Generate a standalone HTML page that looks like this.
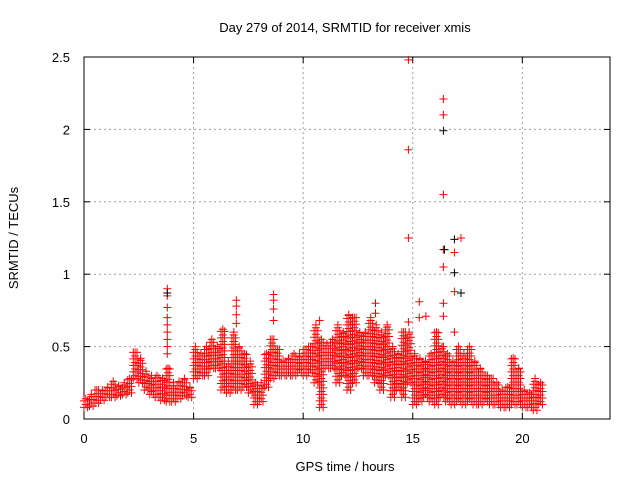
<!DOCTYPE html>
<html><head><meta charset="utf-8"><style>
body{margin:0;background:#fff}
svg{display:block;font-family:"Liberation Sans",sans-serif;font-size:13px}
</style></head><body>
<svg id="chart" width="640" height="480">
<text x="345" y="32" text-anchor="middle">Day 279 of 2014, SRMTID for receiver xmis</text>
<g id="grid"></g>
<g id="axes"></g>
<path id="redpts" fill="none" stroke="#ff0000" stroke-width="1"/>
<path id="blkpts" fill="none" stroke="#000" stroke-width="1"/>
<text x="345" y="471" text-anchor="middle">GPS time / hours</text>
<text transform="translate(18,238) rotate(-90)" text-anchor="middle">SRMTID / TECUs</text>
</svg>
<script>
const xTicks=[0,5,10,15,20];
const yTicks=[0,0.5,1,1.5,2,2.5];
const yTickLabels=["0","0.5","1","1.5","2","2.5"];
const binStart=0, binWidth=0.25;
const lo=[.08,.09,.11,.13, .15,.15,.16,.17, .18,.28,.25,.2, .17,.15,.13,.12, .12,.14,.16,.15,
 .28,.3,.3,.35, .35,.2,.18,.2, .2,.22,.18,.1, .12,.22,.28,.3, .3,.3,.3,.32, .3,.32,.25,.08,
 .35,.35,.25,.3, .2,.25,.35,.3, .3,.25,.2,.3, .15,.2,.15,.25, .1,.12,.15,.12, .1,.15,.12,.1,
 .12,.1,.12,.1, .1,.12,.1,.1, .08,.08,.1,.1, .08,.08,.06,.1];
const hi=[.14,.17,.2,.2, .22,.26,.23,.25, .28,.46,.42,.33, .3,.3,.28,.35, .25,.26,.28,.22,
 .5,.45,.5,.55, .5,.62,.4,.6, .5,.45,.4,.25, .25,.45,.55,.48, .4,.42,.45,.45, .48,.5,.65,.55,
 .52,.55,.65,.6, .72,.7,.6,.6, .7,.65,.6,.65, .5,.45,.6,.6, .45,.42,.4,.45, .6,.5,.45,.4,
 .5,.45,.5,.4, .35,.3,.28,.25, .2,.22,.42,.35, .2,.18,.28,.25];
const spikeT=[3.8,3.8,3.8,3.8,3.8,3.8,3.8,3.8,3.8, 6.95,6.95,6.95,6.95, 8.65,8.65,8.65,8.65,
 14.8,14.8,14.8,14.8, 15.3,15.3,15.6, 16.4,16.4,16.4,16.4,16.4,16.4,16.4,16.4, 16.9,16.9,16.9, 17.2, 13.3,13.3, 10.75];
const spikeV=[.9,.85,.77,.7,.65,.6,.55,.5,.45, .82,.78,.72,.66, .86,.82,.76,.68,
 2.48,1.86,1.25,.67, .81,.7,.71, 2.21,2.1,1.55,1.17,1.05,.8,.71,.5, .88,.6,1.15, 1.25, .8,.73, .68];
const blackT=[16.4,16.9,16.9,17.2,3.8,16.45];
const blackV=[1.99,1.24,1.01,.87,.87,1.17];

const X0=84,X1=610,Y0=419,Y1=57,XMAX=24,YMAX=2.5;
const sx=t=>X0+t/XMAX*(X1-X0), sy=v=>Y0-v/YMAX*(Y0-Y1);
const NS="http://www.w3.org/2000/svg";
const grid=document.getElementById('grid'), axes=document.getElementById('axes');
function mk(tag,attrs,parent){const e=document.createElementNS(NS,tag);for(const k in attrs)e.setAttribute(k,attrs[k]);parent.appendChild(e);return e;}
xTicks.forEach(t=>{const x=sx(t);
 if(t>0){const g=mk('line',{x1:x,x2:x,y1:Y1,y2:Y0,stroke:'#a0a0a0','stroke-dasharray':'2,3'},grid);
 
 }
 mk('line',{x1:x,x2:x,y1:Y0,y2:Y0-6,stroke:'#000'},axes);
 mk('line',{x1:x,x2:x,y1:Y1,y2:Y1+6,stroke:'#000'},axes);
 const l=mk('text',{x:x,y:Y0+24,'text-anchor':'middle'},axes);l.textContent=t;
 
 
});
yTicks.forEach((v,i)=>{const y=sy(v);
 if(v>0&&v<YMAX){const g=mk('line',{x1:X0,x2:X1,y1:y,y2:y,stroke:'#a0a0a0','stroke-dasharray':'2,3'},grid);
 
 }
 mk('line',{x1:X0,x2:X0+6,y1:y,y2:y,stroke:'#000'},axes);
 mk('line',{x1:X1,x2:X1-6,y1:y,y2:y,stroke:'#000'},axes);
 const l=mk('text',{x:X0-14,y:y+5,'text-anchor':'end'},axes);l.textContent=yTickLabels[i];
 
 
});
const fr=mk('rect',{x:X0,y:Y1,width:X1-X0,height:Y0-Y1,fill:'none',stroke:'#000'},axes);


const cross=(t,v)=>{const x=sx(t),y=sy(v);return `M${(x-4).toFixed(1)} ${y.toFixed(1)}h8M${x.toFixed(1)} ${(y-4).toFixed(1)}v8`;};
let d='';
lo.forEach((l,i)=>{const h=hi[i];const t0=binStart+i*binWidth;
 for(let k=0;k<3;k++){const t=t0+k*0.083;const st=0.045;
  for(let v=l+(k%2)*0.02;v<=h+1e-9;v+=st)d+=cross(t,v);
  if(k===1)d+=cross(t,h);}
});
spikeT.forEach((t,i)=>d+=cross(t,spikeV[i]));
document.getElementById('redpts').setAttribute('d',d);
let db='';blackT.forEach((t,i)=>db+=cross(t,blackV[i]));
document.getElementById('blkpts').setAttribute('d',db);
</script>
</body></html>
